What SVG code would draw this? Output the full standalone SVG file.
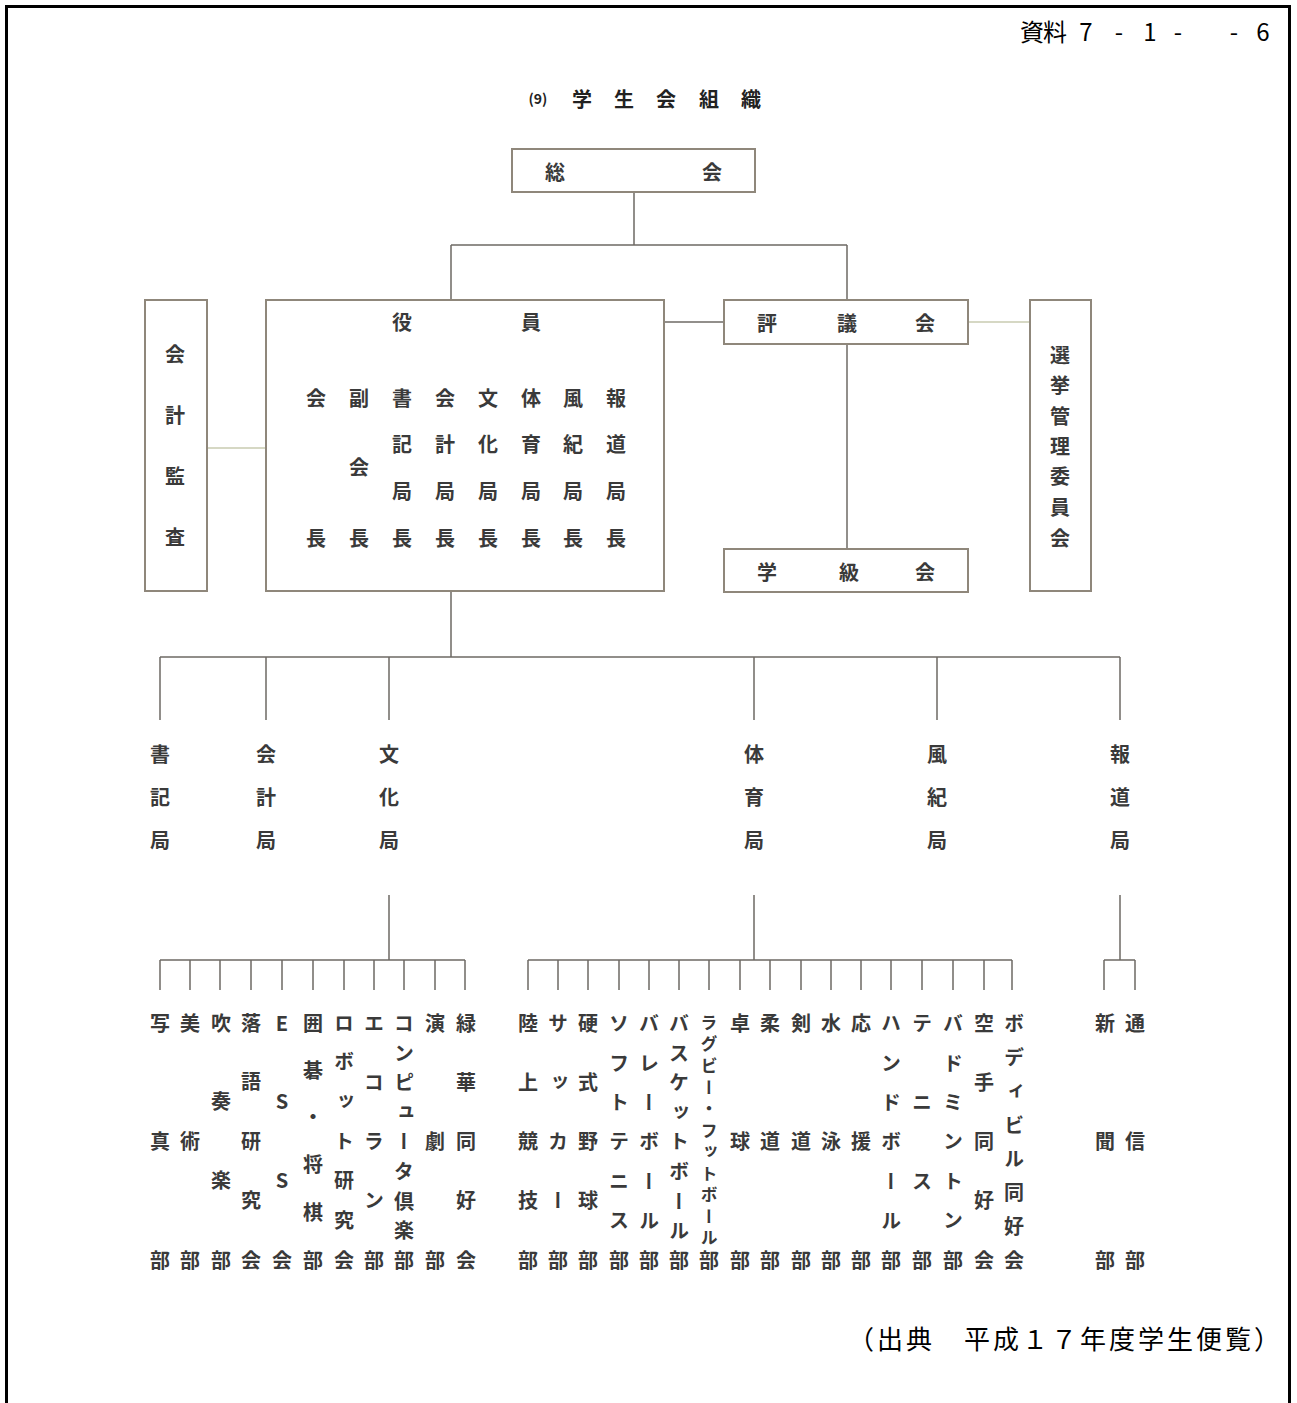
<svg xmlns="http://www.w3.org/2000/svg" width="1297" height="1403" viewBox="0 0 1297 1403">
<style>
.frame{fill:none;stroke:#000;stroke-width:3}
.box{fill:#fff;stroke:#8f877b;stroke-width:2}
.ln{fill:none;stroke:#6e6a64;stroke-width:1.5}
.faint{fill:none;stroke:#c9cbb0;stroke-width:1.5}
text{font-family:"Noto Sans CJK JP","Noto Sans",sans-serif;fill:#3a3a3a;font-weight:bold}
.h{font-size:20px;text-anchor:middle;dominant-baseline:central}
.v{font-size:20px;text-anchor:middle;writing-mode:vertical-rl;text-orientation:upright}
.vs{font-size:17px;text-anchor:middle;writing-mode:vertical-rl;text-orientation:upright}
.hd{font-size:24px;fill:#000;font-weight:normal;text-anchor:middle}
.ft{font-size:26px;fill:#000;font-weight:normal}
.tt{font-size:20px;text-anchor:middle;dominant-baseline:central;fill:#222}
</style>
<rect class="frame" x="6.5" y="6.5" width="1283" height="1420"/>
<text class="hd" x="1032 1055 1086 1119 1150 1178 1234 1263" y="41">資料7-1--6</text>
<g id="title">
<text class="tt" x="538" y="98" style="font-size:14px">(9)</text>
<text class="tt" x="582 624 666 709 751" y="98">学生会組織</text>
</g>
<g id="connectors">
<path class="ln" d="M634 192V245M451 245H847M451 245V300M847 245V300"/>
<path class="faint" d="M207 448H266"/>
<path class="ln" d="M664 322H724"/>
<path class="faint" d="M968 322H1030"/>
<path class="ln" d="M847 344V549"/>
<path class="ln" d="M451 591V657M160 657H1120M160 657V720M266 657V720M389 657V720M754 657V720M937 657V720M1120 657V720"/>
<path class="ln" d="M389 895V960M160 960H465M160 960V990M190 960V990M220 960V990M251 960V990M282 960V990M313 960V990M344 960V990M374 960V990M404 960V990M435 960V990M465 960V990"/>
<path class="ln" d="M754 895V960M528 960H1012M528 960V990M558 960V990M588 960V990M619 960V990M649 960V990M679 960V990M709 960V990M740 960V990M770 960V990M801 960V990M831 960V990M861 960V990M891 960V990M922 960V990M953 960V990M984 960V990M1012 960V990"/>
<path class="ln" d="M1120 895V960M1104 960H1135M1104 960V990M1135 960V990"/>
</g>
<g id="soukai">
<rect class="box" x="512" y="149" width="243" height="43"/>
<text class="h" x="555 712" y="171">総会</text>
</g>
<g id="kaikei-kansa">
<rect class="box" x="145" y="300" width="62" height="291"/>
<text class="v" x="175" y="354 415 476 537">会計監査</text>
</g>
<g id="yakuin">
<rect class="box" x="266" y="300" width="398" height="291"/>
<text class="h" x="402 531" y="321">役員</text>
<text class="v" x="316" y="398 538">会長</text>
<text class="v" x="359" y="398 467 538">副会長</text>
<text class="v" x="402" y="398 444 491 538">書記局長</text>
<text class="v" x="445" y="398 444 491 538">会計局長</text>
<text class="v" x="488" y="398 444 491 538">文化局長</text>
<text class="v" x="531" y="398 444 491 538">体育局長</text>
<text class="v" x="573" y="398 444 491 538">風紀局長</text>
<text class="v" x="616" y="398 444 491 538">報道局長</text>
</g>
<g id="hyogikai">
<rect class="box" x="724" y="300" width="244" height="44"/>
<text class="h" x="767 847 925" y="322">評議会</text>
</g>
<g id="gakkyukai">
<rect class="box" x="724" y="549" width="244" height="43"/>
<text class="h" x="767 849 925" y="571">学級会</text>
</g>
<g id="senkyo">
<rect class="box" x="1030" y="300" width="61" height="291"/>
<text class="v" x="1060" y="355 385 416 446 476 507 538">選挙管理委員会</text>
</g>
<g id="bureaus">
<text class="v" x="160" y="754 797 840">書記局</text>
<text class="v" x="266" y="754 797 840">会計局</text>
<text class="v" x="389" y="754 797 840">文化局</text>
<text class="v" x="754" y="754 797 840">体育局</text>
<text class="v" x="937" y="754 797 840">風紀局</text>
<text class="v" x="1120" y="754 797 840">報道局</text>
</g>
<g id="culture-clubs">
<text class="v" x="160" y="1023 1141 1260">写真部</text>
<text class="v" x="190" y="1023 1141 1260">美術部</text>
<text class="v" x="221" y="1023 1101 1180 1260">吹奏楽部</text>
<text class="v" x="251" y="1023 1081 1141 1200 1260">落語研究会</text>
<text class="v" x="282" y="1023 1101 1180 1260">ESS会</text>
<text class="v" x="313" y="1023 1070 1116 1164 1212 1260">囲碁・将棋部</text>
<text class="v" x="344" y="1023 1061 1101 1141 1180 1220 1260">ロボット研究会</text>
<text class="v" x="374" y="1023 1082 1141 1200 1260">エコラン部</text>
<text class="v" x="404" y="1023 1053 1082 1112 1141 1171 1201 1230 1260">コンピュータ倶楽部</text>
<text class="v" x="435" y="1023 1141 1260">演劇部</text>
<text class="v" x="466" y="1023 1082 1141 1200 1260">緑華同好会</text>
</g>
<g id="sports-clubs">
<text class="v" x="528" y="1023 1082 1141 1200 1260">陸上競技部</text>
<text class="v" x="558" y="1023 1082 1141 1200 1260">サッカー部</text>
<text class="v" x="588" y="1023 1082 1141 1200 1260">硬式野球部</text>
<text class="v" x="619" y="1023 1063 1102 1141 1181 1220 1260">ソフトテニス部</text>
<text class="v" x="649" y="1023 1063 1102 1141 1181 1220 1260">バレーボール部</text>
<text class="v" x="679" y="1023 1053 1082 1112 1141 1171 1201 1230 1260">バスケットボール部</text>
<text class="vs" x="709" y="1023 1044 1066 1088 1109 1131 1152 1174 1195 1217 1238">ラグビー・フットボール</text>
<text class="v" x="709" y="1260">部</text>
<text class="v" x="740" y="1023 1141 1260">卓球部</text>
<text class="v" x="770" y="1023 1141 1260">柔道部</text>
<text class="v" x="801" y="1023 1141 1260">剣道部</text>
<text class="v" x="831" y="1023 1141 1260">水泳部</text>
<text class="v" x="861" y="1023 1141 1260">応援部</text>
<text class="v" x="891" y="1023 1063 1102 1141 1181 1220 1260">ハンドボール部</text>
<text class="v" x="922" y="1023 1102 1181 1260">テニス部</text>
<text class="v" x="953" y="1023 1063 1102 1141 1181 1220 1260">バドミントン部</text>
<text class="v" x="984" y="1023 1082 1141 1200 1260">空手同好会</text>
<text class="v" x="1014" y="1023 1057 1091 1125 1158 1192 1226 1260">ボディビル同好会</text>
</g>
<g id="press-clubs">
<text class="v" x="1105" y="1023 1141 1260">新聞部</text>
<text class="v" x="1135" y="1023 1141 1260">通信部</text>
</g>
<text class="ft" x="848" y="1349" textLength="432" lengthAdjust="spacing">（出典　平成１７年度学生便覧）</text>
</svg>
